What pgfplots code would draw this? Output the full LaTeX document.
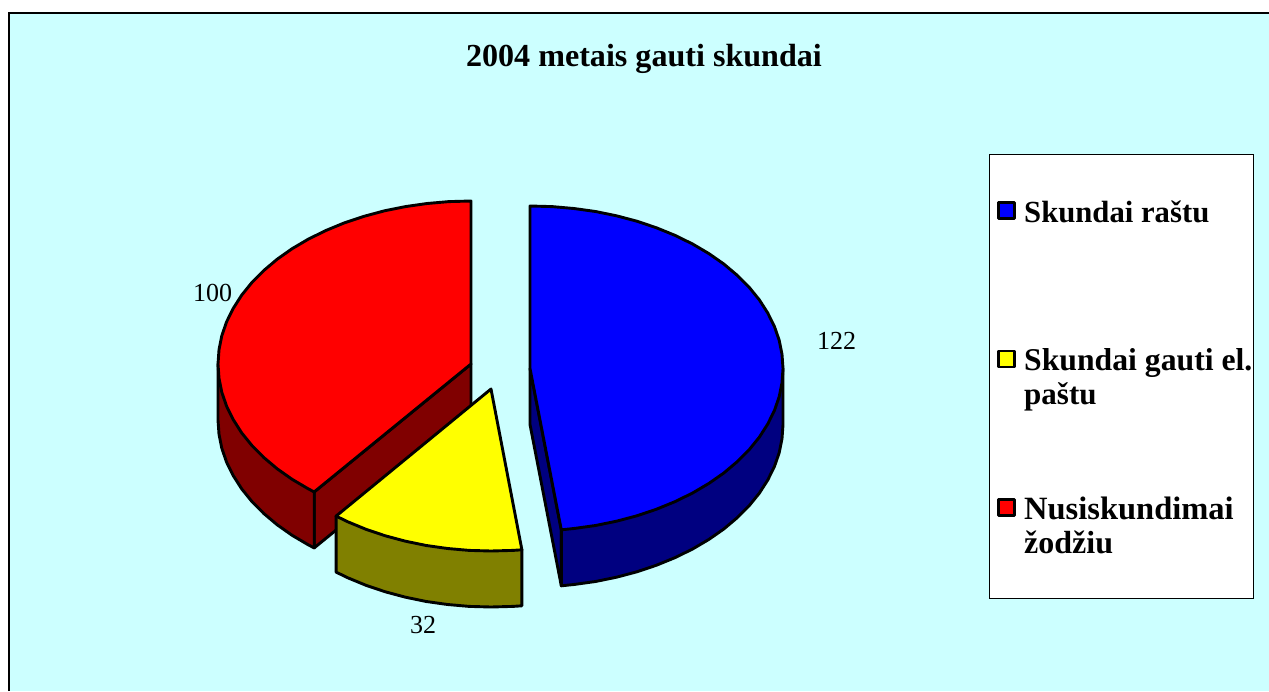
\documentclass[border=0pt]{standalone}
\usepackage{fontspec}
\setmainfont{Liberation Serif}
\usepackage{pgfplots}
\pgfplotsset{compat=1.18}

\definecolor{panel}{RGB}{204,255,255}
\definecolor{bluetop}{RGB}{0,0,255}
\definecolor{bluewall}{RGB}{0,0,128}
\definecolor{yellowtop}{RGB}{255,255,0}
\definecolor{yellowwall}{RGB}{128,128,0}
\definecolor{redtop}{RGB}{255,0,0}
\definecolor{redwall}{RGB}{128,0,0}

\begin{document}
\begin{tikzpicture}
\begin{axis}[
  scale only axis, width=1269pt, height=691pt,
  xmin=0, xmax=1269, ymin=0, ymax=691, y dir=reverse,
  hide axis,
  slice/.style={draw=black, line width=2.9pt, line join=round},
]
% page background keeps the full picture size
\addplot[fill=white, draw=none] coordinates {(0,0) (1269,0) (1269,691) (0,691)} --cycle;
% chart area
\addplot[fill=panel, draw=none] coordinates {(9,13) (1269,13) (1269,691) (9,691)} --cycle;
\addplot[draw=black, line width=2pt] coordinates {(9,691) (9,13) (1269,13)};

% legend box and swatches
\addplot[fill=white, draw=black, line width=1pt] coordinates {(989,154) (1253,154) (1253,598) (989,598)} --cycle;
\addplot[slice, fill=bluetop] coordinates {(998.5,202.5) (1014.5,202.5) (1014.5,218.5) (998.5,218.5)} --cycle;
\addplot[slice, fill=yellowtop] coordinates {(998.5,351) (1014.5,351) (1014.5,367) (998.5,367)} --cycle;
\addplot[slice, fill=redtop] coordinates {(998.5,499.5) (1014.5,499.5) (1014.5,515.5) (998.5,515.5)} --cycle;

% red slice (100)
\addplot[slice, fill=redwall] coordinates {(471,364) (314.2,491.9) (314.2,547.9) (471,420)} --cycle;
\addplot[slice, fill=redwall] coordinates {
  (218,364) (218,420) (219,434.2) (221.8,448.3) (226.6,462.2) (233.3,475.7) (241.7,488.9)
  (251.9,501.5) (263.8,513.5) (277.2,524.8) (292.1,535.3) (308.4,544.9) (314.2,547.9) (314.2,491.9)} --cycle;
\addplot[slice, fill=redtop] coordinates {
  (471,364) (471,201) (448.9,201.6) (427.1,203.5) (405.5,206.6) (384.5,210.8) (364.1,216.3)
  (344.5,222.8) (325.9,230.5) (308.4,239.1) (292.1,248.7) (277.2,259.2) (263.8,270.5)
  (251.9,282.5) (241.7,295.1) (233.3,308.3) (226.6,321.8) (221.8,335.7) (219,349.8)
  (218,364) (219,378.2) (221.8,392.3) (226.6,406.2) (233.3,419.7) (241.7,432.9)
  (251.9,445.5) (263.8,457.5) (277.2,468.8) (292.1,479.3) (308.4,488.9) (314.2,491.9)} --cycle;

% yellow slice (32)
\addplot[slice, fill=yellowwall] coordinates {
  (521.9,549.8) (521.9,605.8) (512.8,606.4) (491,607) (469.2,606.4) (447.6,604.5) (426.3,601.5)
  (405.5,597.2) (385.3,591.8) (366,585.3) (347.6,577.7) (336.1,572.1) (336.1,516.1)} --cycle;
\addplot[slice, fill=yellowtop] coordinates {
  (491,389) (521.9,549.8) (512.8,550.4) (491,551) (469.2,550.4) (447.6,548.5) (426.3,545.5)
  (405.5,541.2) (385.3,535.8) (366,529.3) (347.6,521.7) (336.1,516.1)} --cycle;

% blue slice (122)
\addplot[slice, fill=bluewall] coordinates {(530,368.5) (561.3,529.8) (561.3,585.8) (530,424.5)} --cycle;
\addplot[slice, fill=bluewall] coordinates {
  (783,368.5) (783,424.5) (782,438.7) (779.2,452.7) (774.4,466.6) (767.7,480.1) (759.3,493.2)
  (749.1,505.8) (737.2,517.7) (723.8,529) (708.9,539.4) (692.6,549) (675.1,557.6)
  (656.5,565.2) (636.9,571.8) (616.5,577.2) (595.5,581.5) (573.9,584.5) (561.3,585.8) (561.3,529.8)} --cycle;
\addplot[slice, fill=bluetop] coordinates {
  (530,368.5) (530,206) (552.1,206.6) (573.9,208.5) (595.5,211.5) (616.5,215.8) (636.9,221.2)
  (656.5,227.8) (675.1,235.4) (692.6,244) (708.9,253.6) (723.8,264) (737.2,275.3)
  (749.1,287.2) (759.3,299.8) (767.7,312.9) (774.4,326.4) (779.2,340.3) (782,354.3)
  (783,368.5) (782,382.7) (779.2,396.7) (774.4,410.6) (767.7,424.1) (759.3,437.2)
  (749.1,449.8) (737.2,461.7) (723.8,473) (708.9,483.4) (692.6,493) (675.1,501.6)
  (656.5,509.2) (636.9,515.8) (616.5,521.2) (595.5,525.5) (573.9,528.5) (561.3,529.8)} --cycle;

% title and value labels
\node[anchor=base, font=\fontsize{32.1}{36}\selectfont\bfseries] at (axis cs:644,66) {2004 metais gauti skundai};
\node[anchor=base, font=\fontsize{26}{30}\selectfont] at (axis cs:836.5,349) {122};
\node[anchor=base, font=\fontsize{26}{30}\selectfont] at (axis cs:212.5,301) {100};
\node[anchor=base, font=\fontsize{26}{30}\selectfont] at (axis cs:423,633) {32};

% legend text, sizes set line by line to keep the reference's line widths
\begin{scope}[every node/.style={anchor=base west, inner sep=0pt}]
\node[font=\fontsize{30.7}{34}\selectfont\bfseries] at (axis cs:1024,222) {Skundai raštu};
\node[font=\fontsize{31.7}{34}\selectfont\bfseries] at (axis cs:1024,370) {Skundai gauti el.};
\node[font=\fontsize{31}{34}\selectfont\bfseries] at (axis cs:1024,404) {paštu};
\node[font=\fontsize{32.5}{34}\selectfont\bfseries] at (axis cs:1024,519) {Nusiskundimai};
\node[font=\fontsize{32}{34}\selectfont\bfseries] at (axis cs:1024,553) {žodžiu};
\end{scope}
\end{axis}
\end{tikzpicture}
\end{document}
